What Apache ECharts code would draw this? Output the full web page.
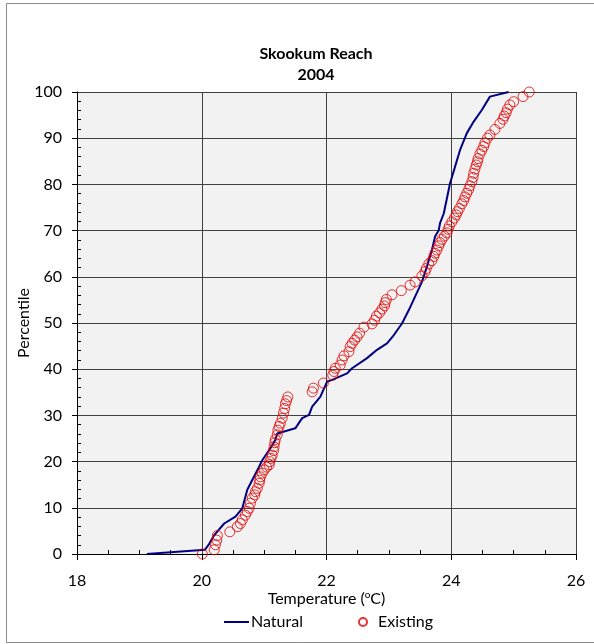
<!DOCTYPE html>
<html>
<head>
<meta charset="utf-8">
<script src="https://cdn.jsdelivr.net/npm/echarts@6/dist/echarts.min.js"></script>
<style>
  html, body { margin: 0; padding: 0; background: #ffffff; }
  #chart { width: 594px; height: 644px; }
</style>
</head>
<body>
<div id="chart"></div>
<script>
// Cumulative temperature distributions, Skookum Reach 2004

// Natural condition (line)
const naturalTemp = [19.12, 20.05, 20.12, 20.2, 20.36, 20.54, 20.65, 20.73, 20.81, 20.92, 20.97, 21.1, 21.18, 21.21,
  21.5, 21.61, 21.72, 21.77, 21.9, 22.01, 22.09, 22.33, 22.41, 22.65, 22.81, 22.97, 23.08, 23.21, 23.32, 23.42,
  23.53, 23.61, 23.69, 23.74, 23.8, 23.82, 23.88, 23.98, 24.06, 24.14, 24.25, 24.36, 24.49, 24.62, 24.92];
const naturalPct = [0, 0.9, 2.2, 4.1, 6.6, 8.1, 9.9, 13.9, 16, 18.9, 20.3, 22.9, 24.7, 26.1,
  27.2, 29.4, 30.1, 31.9, 34.0, 37.3, 37.7, 39.1, 40.2, 42.4, 44.2, 45.6, 47.4, 49.9, 52.8, 55.7,
  58.9, 62.2, 65.8, 68.7, 70.1, 71.6, 73.7, 80.2, 83.8, 87.4, 91.1, 93.6, 96.1, 99.0, 100];

// Existing condition (open circles)
const existingTemp = [20.01, 20.2, 20.22, 20.24, 20.25, 20.45, 20.57, 20.62, 20.65, 20.7, 20.73, 20.76, 20.78, 20.81,
  20.85, 20.86, 20.89, 20.92, 20.93, 20.94, 20.97, 21.0, 21.04, 21.08, 21.09, 21.11, 21.13, 21.15, 21.16, 21.17,
  21.18, 21.21, 21.22, 21.24, 21.26, 21.29, 21.31, 21.33, 21.34, 21.36, 21.38, 21.77, 21.79, 21.95, 22.1, 22.12,
  22.14, 22.22, 22.25, 22.28, 22.36, 22.38, 22.41, 22.45, 22.49, 22.53, 22.6, 22.73, 22.77, 22.8, 22.85, 22.89,
  22.93, 22.94, 22.96, 23.05, 23.2, 23.34, 23.42, 23.53, 23.58, 23.6, 23.64, 23.69, 23.72, 23.74, 23.77, 23.8,
  23.82, 23.85, 23.89, 23.93, 23.95, 23.97, 24.01, 24.05, 24.08, 24.1, 24.13, 24.17, 24.2, 24.22, 24.25, 24.28,
  24.3, 24.33, 24.35, 24.36, 24.38, 24.4, 24.42, 24.43, 24.46, 24.49, 24.52, 24.54, 24.58, 24.62, 24.7, 24.78,
  24.83, 24.85, 24.88, 24.9, 24.94, 25.0, 25.15, 25.25];
const existingPct = [0, 0.9, 2, 3, 4, 4.8, 5.9, 6.6, 7.4, 8.4, 9.2, 9.9, 11, 12.1,
  12.8, 13.5, 14.2, 15.3, 16, 16.7, 17.5, 18.2, 18.8, 19.3, 20, 20.7, 21.4, 22.4, 23.2, 24.1,
  24.8, 25.8, 26.8, 27.6, 28.3, 29.4, 30.5, 31.5, 32.5, 33.2, 34.0, 35.1, 35.9, 37, 38.7, 39.5,
  40.2, 40.9, 42, 42.9, 43.8, 44.9, 45.6, 46.3, 47, 47.8, 49.1, 49.8, 50.6, 51.5, 52.2, 53,
  53.7, 54.4, 55.1, 56.1, 57, 58.2, 58.9, 60.2, 61.1, 61.8, 62.8, 63.5, 64.4, 65.1, 65.8, 66.7,
  67.4, 68.1, 68.8, 69.5, 70.3, 71, 71.9, 72.7, 73.4, 74.1, 74.8, 75.8, 76.5, 77.3, 78.1, 78.9,
  79.7, 80.6, 81.5, 82.4, 83.3, 84.2, 84.9, 85.6, 86.6, 87.4, 88.2, 89, 90, 90.7, 91.9, 93.2,
  94.1, 94.8, 95.5, 96.3, 97.2, 97.9, 99, 100];

const xTicks = { min: 18, max: 26, step: 2 };
const yTicks = { min: 0, max: 100, step: 10 };

const FONT = 'Lato, "Open Sans", sans-serif';
const RED = '#e00000';
const NAVY = '#000080';

const pairs = (xs, ys) => xs.map((x, i) => [x, ys[i]]);

const chart = echarts.init(document.getElementById('chart'), null, { renderer: 'canvas' });

chart.setOption({
  backgroundColor: '#ffffff',
  animation: false,
  textStyle: { fontFamily: FONT },
  graphic: [{
    type: 'rect',
    shape: { x: 6.5, y: 3.5, width: 600, height: 639 },
    style: { fill: 'none', stroke: '#8c8c8c', lineWidth: 1 },
    silent: true,
    z: -10
  }],
  title: {
    text: 'Skookum Reach\n2004',
    left: 311,
    top: 38,
    textAlign: 'center',
    textStyle: { fontFamily: FONT, fontWeight: 'bold', fontSize: 16, lineHeight: 21, color: '#000' }
  },
  legend: [{
    data: [{ name: 'Natural', icon: 'rect' }],
    left: 224,
    top: 614,
    padding: 0,
    itemWidth: 25,
    itemHeight: 2,
    textStyle: { fontFamily: FONT, fontSize: 16, color: '#000', padding: [0, 0, 0, -3] }
  }, {
    data: ['Existing'],
    left: 358,
    top: 614,
    padding: 0,
    itemWidth: 8,
    itemHeight: 8,
    textStyle: { fontFamily: FONT, fontSize: 16, color: '#000', padding: [0, 0, 0, 6] }
  }],
  grid: {
    left: 77,
    right: 18,
    top: 92,
    bottom: 90,
    show: true,
    backgroundColor: '#f2f2f2',
    borderWidth: 0
  },
  xAxis: {
    type: 'value',
    min: xTicks.min,
    max: xTicks.max,
    interval: xTicks.step,
    name: '{a|Temperature (}{s|o}{a|C)}',
    nameLocation: 'middle',
    nameGap: 36,
    nameMoveOverlap: false,
    nameTextStyle: {
      rich: {
        a: { fontFamily: FONT, fontSize: 16, color: '#000' },
        s: { fontFamily: FONT, fontSize: 10, color: '#000', verticalAlign: 'bottom', padding: [0, 0, 7, 0] }
      }
    },
    axisLine: { show: true, onZero: false, lineStyle: { color: '#000', width: 1 } },
    axisTick: { show: true, inside: false, length: 6, lineStyle: { color: '#000' } },
    minorTick: { show: true, splitNumber: 4, length: -4, lineStyle: { color: '#000' } },
    axisLabel: { margin: 19, fontFamily: FONT, fontSize: 16, color: '#000' },
    splitLine: { show: true, lineStyle: { color: '#404040', width: 1 } }
  },
  yAxis: {
    type: 'value',
    min: yTicks.min,
    max: yTicks.max,
    interval: yTicks.step,
    name: 'Percentile',
    nameLocation: 'middle',
    nameGap: 45,
    nameMoveOverlap: false,
    nameTextStyle: { fontFamily: FONT, fontSize: 16, color: '#000' },
    axisLine: { show: true, onZero: false, lineStyle: { color: '#000', width: 1 } },
    axisTick: { show: true, inside: false, length: 5, lineStyle: { color: '#000' } },
    minorTick: { show: true, splitNumber: 5, length: -4, lineStyle: { color: '#000' } },
    axisLabel: { margin: 15, fontFamily: FONT, fontSize: 16, color: '#000' },
    splitLine: { show: true, lineStyle: { color: '#404040', width: 1 } }
  },
  series: [{
    name: 'Natural',
    type: 'line',
    data: pairs(naturalTemp, naturalPct),
    symbol: 'none',
    lineStyle: { color: NAVY, width: 2 },
    itemStyle: { color: NAVY },
    z: 3
  }, {
    name: 'Existing',
    type: 'scatter',
    data: pairs(existingTemp, existingPct),
    symbol: 'circle',
    symbolSize: 10,
    itemStyle: { color: 'rgba(255,255,255,0)', borderColor: RED, borderWidth: 1 },
    z: 4
  }]
});
</script>
</body>
</html>
